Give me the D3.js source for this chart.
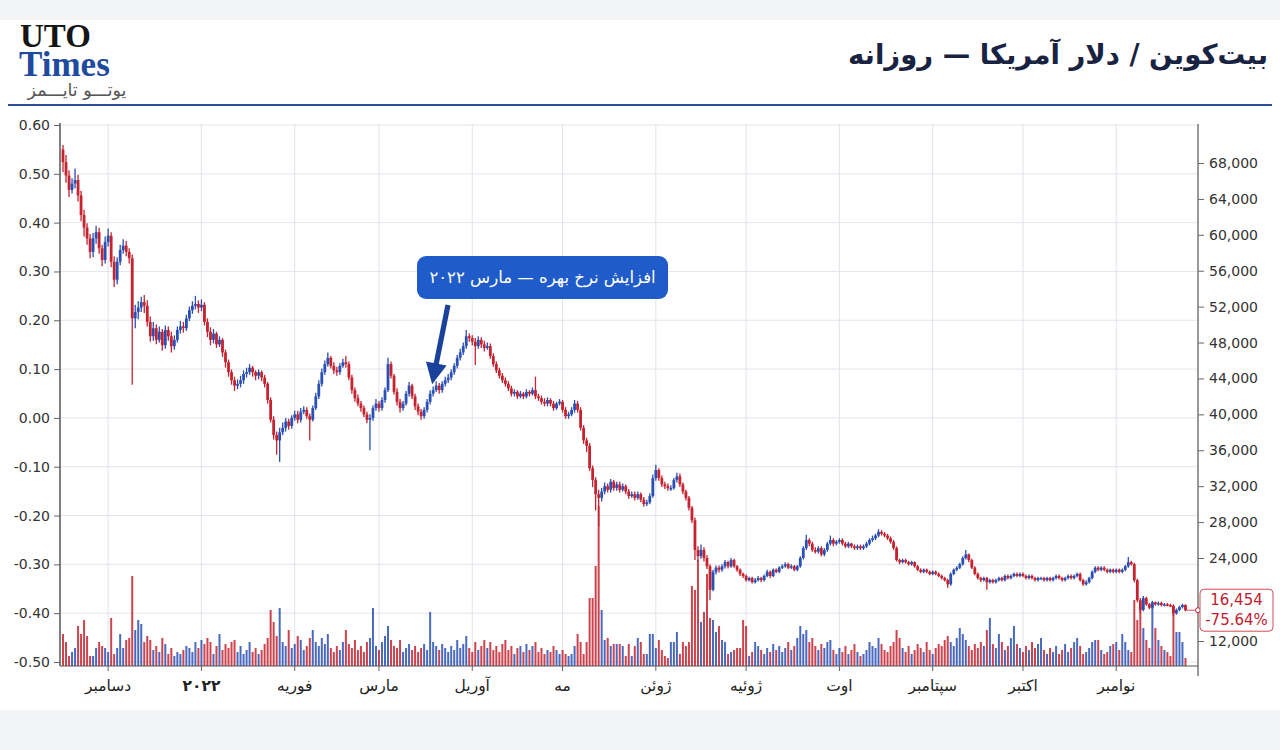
<!DOCTYPE html>
<html><head><meta charset="utf-8">
<script src="https://cdn.jsdelivr.net/npm/d3@7"></script>
<style>
html,body{margin:0;padding:0;background:#f3f4f6;}
svg{display:block;}
</style></head><body>
<svg id="chart" width="1280" height="750"></svg>
<script>
// ---------------- DATA ----------------
const startDate = "2021-11-16";
const firstOpen = 69500;
const closes = [
68100,66600,65000,65700,66100,64400,62200,60800,59600,58100,
59600,60300,58500,57200,59200,59900,57000,55000,57000,58300,
58800,58100,57400,50700,51400,51900,52500,52100,50300,48700,
49600,48300,49200,47700,49400,48700,47600,48300,49400,49800,
49600,50700,51600,52100,52300,51900,52200,50300,49200,48300,
49000,47800,48300,46900,45800,44700,43800,43200,43400,43800,
44500,44700,45200,44700,44300,44700,44100,43400,41600,39400,
37700,37100,38000,38500,39200,38700,39600,40000,39400,40300,
40500,39800,39400,40700,42000,43400,44700,45600,46300,45400,
44900,44700,45400,45800,45600,44100,42700,41800,41200,40700,
40000,39400,39600,40700,41200,40700,41600,42700,45600,44300,
42500,41400,40700,41200,42300,43200,42000,40900,40300,39800,
40500,41400,42300,42700,43200,42700,43400,43800,44100,44700,
45400,46300,46900,47600,48700,48500,48100,47600,48300,47800,
47400,47600,46500,45600,44900,44300,43800,43400,42900,42300,
42500,42000,42300,42000,42500,42300,42700,42000,41800,41400,
41200,41600,41200,40700,41200,41400,40500,39800,40000,40500,
41200,40500,38500,37100,36500,34000,32700,31100,30700,31400,
32000,31600,32500,31800,32200,31600,32000,31400,30900,31100,
30700,31100,30500,30000,30200,30900,32900,33800,32900,32200,
32000,31800,31800,32700,33100,32200,31400,30700,29600,28200,
24900,24200,24900,24000,22800,19400,22000,22600,22300,22800,
23400,22800,23700,22800,22300,21700,21400,20800,21100,20500,
20800,21100,20800,21400,22000,21400,22300,22000,22600,22800,
23100,22600,22800,22300,22800,24000,25100,26000,25600,24900,
24700,25100,24400,24900,25600,26000,25600,25800,26000,25600,
25300,25600,25300,25100,25300,25100,25300,25600,26000,26200,
26500,26900,26700,26500,26200,25800,25100,23700,23400,23700,
23400,23100,23400,22800,22300,22000,22300,22000,21700,22000,
21700,21400,21100,20800,20200,21700,22300,22600,23100,24000,
24400,23700,22600,21700,21100,20800,21100,20500,20800,20500,
20800,21100,20800,21400,21100,21400,21700,21400,21700,21400,
21100,21400,21100,20800,21100,21100,20800,21100,20800,21100,
21400,21100,20800,21100,21400,21100,21400,21700,20800,20200,
20500,21100,22000,22600,22300,22600,22300,22000,22300,22000,
22300,22000,22300,22800,23400,23100,20800,17900,16500,18200,
17300,16800,17600,17300,17500,17200,17300,17200,17100,16000,
16500,16900,17200,16454];
const highs = [
70000,68900,67200,66300,67400,66700,64900,62800,61300,60100,
60200,61000,60800,58900,59800,60700,60300,57600,57500,58900,
59500,59300,58500,57800,52200,52600,53100,53300,52700,50900,
50300,50000,49800,49500,49900,49800,49200,48800,49800,50400,
50300,51100,52000,52600,53200,52700,52800,52500,50700,49700,
49500,49200,48700,48500,47200,46100,45000,44200,43900,44300,
44900,45200,45600,45400,44900,45000,44900,44400,43600,41900,
39800,38100,38500,39100,39600,39500,39900,40400,40400,40700,
40900,40800,40100,41000,42400,43800,45100,46000,46900,46500,
45800,45300,45700,46200,46500,45900,44400,43000,42200,41500,
41000,40300,40000,41000,41700,41500,41900,43000,46300,45900,
44500,42900,41700,41500,42600,43600,43400,42300,41200,40600,
40800,41700,42700,43100,43700,43500,43700,44200,44500,45000,
45700,46600,47300,48000,49400,49000,48800,48500,48700,48600,
48200,48000,47900,46800,45900,45200,44600,44100,43700,43200,
42800,42700,42600,42500,42800,42700,43000,44200,42300,42100,
41800,41900,41800,41500,41400,41700,41600,40800,40300,40800,
41600,41500,40800,38800,37400,36800,34300,33000,31600,31800,
32400,32300,32800,32700,32500,32500,32300,32200,31700,31400,
31400,31400,31300,30800,30500,31200,33300,34400,34000,33200,
32500,32300,32100,32900,33500,33400,32400,31600,30900,29800,
28500,25300,25500,25200,24300,23100,22300,22900,22900,23100,
23700,23600,24000,23900,23000,22500,21900,21600,21300,21300,
21100,21400,21300,21600,22300,22200,22500,22500,22800,23100,
23400,23300,23100,23000,23000,24200,25300,26600,26200,25800,
25200,25300,25300,25100,25800,26500,26200,26000,26200,26200,
25800,25800,25700,25500,25500,25500,25500,25800,26200,26500,
26700,27200,27100,26900,26700,26400,26000,25300,23900,23900,
23900,23600,23600,23500,23000,22500,22500,22500,22200,22200,
22200,21900,21600,21300,21000,21900,22500,22800,23300,24200,
24900,24500,23900,22800,21900,21300,21300,21300,21000,21000,
21000,21300,21300,21600,21600,21600,21900,21900,21900,21900,
21600,21600,21600,21300,21300,21300,21300,21300,21300,21300,
21600,21600,21300,21300,21600,21600,21600,21900,21900,21000,
20800,21300,22200,22800,22800,22800,22800,22500,22500,22500,
22500,22500,22500,23000,24100,23600,23300,21000,18200,18500,
18400,17500,17800,17700,17700,17700,17500,17500,17400,17300,
16700,17100,17400,17300];
const lows = [
67000,65800,64200,64600,65200,63700,61500,59800,58900,57400,
57500,59000,57900,56500,56800,58700,56400,54200,54500,56600,
57900,57600,56800,43300,49600,50600,51400,51300,49800,48100,
48200,47800,48000,47100,47300,48200,46900,47200,48000,49000,
49100,49300,50400,51200,51700,51300,51500,49900,48600,47700,
47900,47400,47500,46400,45200,44200,43300,42600,42800,43000,
43400,44100,44400,44200,43800,43900,43700,43000,41200,39100,
37200,35500,34700,37700,38100,38300,38400,39300,39000,39100,
40000,39500,37100,39200,40500,41700,43100,44400,45300,45100,
44500,44300,44400,45200,45200,43800,42300,41400,40900,40300,
39700,39000,36000,39300,40400,40300,40400,41300,42500,44000,
42200,41000,40200,40400,41000,42000,41700,40500,39900,39400,
39500,40200,41100,42000,42500,42300,42400,43100,43500,43800,
44400,45100,46000,46600,47300,48100,47700,45500,47300,47400,
47000,47200,46200,45300,44600,44000,43500,43100,42600,42000,
42000,41700,41800,41700,41800,42000,42100,41700,41500,41100,
40900,40900,40900,40400,40500,41000,40200,39500,39500,39800,
40200,40200,38200,36700,35800,33700,31900,29300,27500,30300,
31100,31300,31300,31500,31500,31300,31400,31100,30600,30700,
30400,30500,30200,29700,29800,30000,30700,32600,32600,31900,
31700,31500,31500,31600,32400,31900,31100,30400,29300,27900,
23700,23600,23900,23500,22400,17900,19200,21600,21900,22000,
22500,22500,22600,22600,22000,21400,21100,20600,20600,20300,
20300,20600,20500,20600,21200,21100,21200,21800,21800,22400,
22600,22400,22400,22100,22100,22600,23800,24900,25300,24700,
24500,24500,24200,24200,24700,25400,25300,25400,25600,25400,
25100,25100,25100,24900,24900,24900,24900,25100,25400,25800,
26000,26300,26500,26300,26000,25600,24900,23500,23100,23200,
23200,22900,22900,22600,22100,21800,21800,21800,21500,21500,
21500,21200,20900,20600,19700,20000,21500,22100,22400,22900,
23800,23400,22400,21500,20900,20500,20600,19400,20300,20300,
20300,20600,20600,20600,20900,20900,21200,21200,21200,21200,
20900,20900,20900,20600,20600,20900,20600,20600,20600,20600,
20900,20900,20600,20600,20900,20900,20900,21200,20600,20000,
20000,20300,20900,21800,22100,22100,22100,21800,21800,21800,
21800,21800,21800,22100,22600,22900,20500,17600,16000,16300,
17100,16600,16600,17100,17100,17000,17000,17000,16900,15600,
15800,16300,16700,16300];
// daily volume, billions USD
const volumes = [
16,12,5,7,9,20,16,23,15,5,
5,9,12,10,9,7,24,6,9,16,
9,13,14,45,18,23,21,12,15,13,
8,10,7,14,11,6,9,5,7,6,
8,10,9,7,12,9,13,11,14,12,
6,10,16,8,11,9,12,13,7,10,
6,8,12,7,9,6,8,11,14,28,
22,15,29,12,10,18,9,11,15,13,
8,10,14,18,12,10,14,11,16,9,
7,10,8,12,18,11,9,13,8,10,
7,12,14,29,10,8,12,15,20,13,
10,9,13,7,9,11,8,10,7,9,
11,8,27,12,10,8,11,9,7,10,
8,13,9,11,15,9,7,12,8,10,
13,9,12,8,10,7,11,13,8,10,
6,9,10,7,11,8,10,12,7,9,
6,8,7,10,8,6,8,6,5,6,
10,16,12,6,12,34,34,50,80,28,
13,14,10,11,11,11,10,5,11,5,
10,14,12,6,6,16,16,9,13,8,
5,4,12,12,17,6,12,10,12,40,
38,53,22,27,46,24,23,17,20,13,
12,6,7,8,9,9,23,20,5,7,
12,10,8,6,9,7,11,8,10,7,
9,12,8,10,14,20,16,18,12,14,
10,8,11,9,12,13,8,6,9,7,
10,6,8,11,7,5,6,8,12,10,
9,14,11,8,7,10,12,18,14,9,
7,10,6,8,11,9,7,12,8,6,
9,11,10,13,15,12,10,14,19,16,
13,10,8,11,9,12,10,18,24,11,
9,16,12,8,10,14,20,11,9,7,
10,8,12,9,11,14,8,6,9,7,
10,6,8,11,7,9,12,14,10,6,
7,9,12,13,13,8,6,7,10,11,
12,8,16,12,8,7,33,23,30,19,
13,9,32,19,13,10,8,7,5,29,
17,17,12,4];
const lastPrice = 16454;
const changePct = -75.64;
const xDomain = ["2021-11-15", "2022-11-28"];
const monthTicks = ["2021-12-01","2022-01-01","2022-02-01","2022-03-01","2022-04-01","2022-05-01",
                    "2022-06-01","2022-07-01","2022-08-01","2022-09-01","2022-10-01","2022-11-01"];
const monthLabels = ["دسامبر","۲۰۲۲","فوریه","مارس","آوریل","مه","ژوئن","ژوئیه","اوت","سپتامبر","اکتبر","نوامبر"];
const leftTicks = [0.6,0.5,0.4,0.3,0.2,0.1,0,-0.1,-0.2,-0.3,-0.4,-0.5];
const rightTicks = [68000,64000,60000,56000,52000,48000,44000,40000,36000,32000,28000,24000,12000];
const annotationDate = "2022-03-18";
const annotationText = "افزایش نرخ بهره — مارس ۲۰۲۲";
const titleText = "بیت‌کوین / دلار آمریکا — روزانه";

// ---------------- CHART ----------------
const W = 1280, H = 750;
const L = 60, R = 1198, T = 124, B = 666;
const UP = "#2a50b4", DOWN = "#c4232f";
const svg = d3.select("#chart");
const parse = d3.utcParse("%Y-%m-%d");
const t0 = parse(startDate);
const data = closes.map((c, i) => ({
  date: d3.utcDay.offset(t0, i),
  open: i === 0 ? firstOpen : closes[i - 1],
  close: c, high: highs[i], low: lows[i], vol: volumes[i]
}));

const x = d3.scaleUtc().domain(xDomain.map(parse)).range([L, 1197.5]);
const yP = d3.scaleLinear().domain([12000, 24000, 68000]).range([641, 558, 163]);
const yL = d3.scaleLinear().domain([-0.5, 0.6]).range([662, 125]);
const yV = d3.scaleLinear().domain([0, 80]).range([B, B - 160]);

// background card
svg.append("rect").attr("x", 0).attr("y", 20).attr("width", W).attr("height", 690).attr("fill", "#ffffff");

// header logo (one text block, three lines)
const logo = svg.append("text");
logo.append("tspan").attr("x", 20).attr("y", 47).text("UTO")
  .attr("font-family", "Liberation Serif, serif").attr("font-weight", "bold").attr("font-size", 33).attr("fill", "#151515");
logo.append("tspan").attr("x", 19).attr("y", 76).text("Times")
  .attr("font-family", "Liberation Serif, serif").attr("font-weight", "bold").attr("font-size", 35).attr("fill", "#1f4b9e");
logo.append("tspan").attr("x", 77).attr("y", 96).text("یوتـــو تایـــمز")
  .attr("font-family", "DejaVu Sans").attr("font-size", 17.5).attr("fill", "#555")
  .attr("text-anchor", "middle").attr("direction", "rtl");
svg.append("text").attr("x", 1058).attr("y", 64).text(titleText)
  .attr("font-family", "DejaVu Sans").attr("font-weight", "bold").attr("font-size", 27.5)
  .attr("fill", "#182241").attr("text-anchor", "middle").attr("direction", "rtl");
svg.append("line").attr("x1", 8).attr("x2", 1272).attr("y1", 105).attr("y2", 105)
  .attr("stroke", "#2b4c9b").attr("stroke-width", 2);

// grid
const grid = svg.append("g");
grid.selectAll("line.h").data(leftTicks).join("line")
  .attr("x1", L).attr("x2", R).attr("y1", d => yL(d)).attr("y2", d => yL(d))
  .attr("stroke", "#e3e6ec").attr("stroke-width", 1);
grid.selectAll("line.v").data(monthTicks).join("line")
  .attr("x1", d => x(parse(d))).attr("x2", d => x(parse(d))).attr("y1", T).attr("y2", B)
  .attr("stroke", "#dfe3ea").attr("stroke-width", 1);

// axes
const loc = d3.formatLocale({decimal: ".", thousands: ",", grouping: [3], currency: ["$", ""], minus: "-"});
const axL = svg.append("g").attr("transform", `translate(${L},0)`)
  .call(d3.axisLeft(yL).tickValues(leftTicks).tickFormat(loc.format(".2f")).tickSize(6).tickPadding(4));
const axR = svg.append("g").attr("transform", `translate(${R},0)`)
  .call(d3.axisRight(yP).tickValues(rightTicks).tickFormat(loc.format(",")).tickSize(6).tickPadding(5));
[axL, axR].forEach(a => {
  a.select(".domain").remove();
  a.selectAll("text").attr("font-family", "DejaVu Sans").attr("font-size", 14).attr("fill", "#333");
  a.selectAll(".tick line").attr("stroke", "#666");
});
svg.append("line").attr("x1", L).attr("x2", L).attr("y1", T - 1).attr("y2", B)
  .attr("stroke", "#555").attr("stroke-width", 1.5);
svg.append("line").attr("x1", R).attr("x2", R).attr("y1", T).attr("y2", B + 10)
  .attr("stroke", "#777").attr("stroke-width", 1.5);

// clipped plot
svg.append("clipPath").attr("id", "clip").append("rect")
  .attr("x", L).attr("y", T - 4).attr("width", R - L).attr("height", B - T + 4);
const plot = svg.append("g").attr("clip-path", "url(#clip)");

// volume
plot.selectAll("rect.vol").data(data).join("rect")
  .attr("x", d => x(d.date) - 1).attr("width", 2)
  .attr("y", d => yV(d.vol)).attr("height", d => B - yV(d.vol))
  .attr("fill", d => d.close >= d.open ? UP : DOWN).attr("opacity", 0.85);

// candles
const cg = plot.selectAll("g.c").data(data).join("g");
cg.append("line")
  .attr("x1", d => x(d.date)).attr("x2", d => x(d.date))
  .attr("y1", d => yP(d.high)).attr("y2", d => yP(d.low))
  .attr("stroke", d => d.close >= d.open ? UP : DOWN).attr("stroke-width", 1.3);
cg.append("rect")
  .attr("x", d => x(d.date) - 1.4).attr("width", 2.8)
  .attr("y", d => Math.min(yP(d.open), yP(d.close)))
  .attr("height", d => Math.max(1.5, Math.abs(yP(d.open) - yP(d.close))))
  .attr("fill", d => d.close >= d.open ? UP : DOWN);

// bottom baseline + month ticks
svg.append("line").attr("x1", L).attr("x2", R).attr("y1", B).attr("y2", B)
  .attr("stroke", "#555").attr("stroke-width", 1);
svg.selectAll("line.mt").data(monthTicks).join("line")
  .attr("x1", d => x(parse(d))).attr("x2", d => x(parse(d))).attr("y1", B).attr("y2", B + 5)
  .attr("stroke", "#666");
svg.selectAll("text.ml").data(monthLabels).join("text")
  .attr("x", (d, i) => x(parse(monthTicks[i]))).attr("y", 691)
  .attr("text-anchor", "middle").attr("direction", "rtl")
  .attr("font-family", "DejaVu Sans").attr("font-size", 15.5)
  .attr("font-weight", (d, i) => i === 1 ? "bold" : "normal")
  .attr("fill", "#222").text(d => d);

// last price line + label
const last = data[data.length - 1];
const yLast = yP(lastPrice);
svg.append("line").attr("x1", x(last.date) + 1).attr("x2", R).attr("y1", yLast).attr("y2", yLast)
  .attr("stroke", DOWN).attr("stroke-width", 1).attr("opacity", 0.8);
svg.append("circle").attr("cx", R).attr("cy", yLast).attr("r", 2.5)
  .attr("fill", "#fff").attr("stroke", DOWN).attr("stroke-width", 1);
svg.append("rect").attr("x", 1200).attr("y", yLast - 21).attr("width", 73).attr("height", 42).attr("rx", 4)
  .attr("fill", "#fff").attr("stroke", "#d24a58").attr("stroke-width", 1);
svg.append("text").attr("x", 1236.5).attr("y", yLast - 5).attr("text-anchor", "middle")
  .attr("font-family", "DejaVu Sans").attr("font-size", 15).attr("fill", "#c0202f")
  .text(loc.format(",")(lastPrice));
svg.append("text").attr("x", 1236.5).attr("y", yLast + 15).attr("text-anchor", "middle")
  .attr("font-family", "DejaVu Sans").attr("font-size", 15).attr("fill", "#c0202f")
  .text(loc.format(".2f")(changePct) + "%");

// annotation
const ann = svg.append("g");
ann.append("rect").attr("x", 417).attr("y", 256).attr("width", 251).attr("height", 43).attr("rx", 9)
  .attr("fill", "#1f5cc9");
ann.append("text").attr("x", 542.5).attr("y", 283).attr("text-anchor", "middle").attr("direction", "rtl")
  .attr("font-family", "DejaVu Sans").attr("font-size", 16.5).attr("fill", "#fff").text(annotationText);
const aData = data.find(d => +d.date === +parse(annotationDate));
const tip = [x(aData.date) + 2, yP(aData.high) - 6];
const tail = [448, 305];
const dx = tip[0] - tail[0], dy = tip[1] - tail[1], len = Math.hypot(dx, dy);
const ux = dx / len, uy = dy / len, nx = -uy, ny = ux;
const hl = 21, sw = 2.6, hw = 10.5;
const se = [tip[0] - ux * hl, tip[1] - uy * hl];
const pts = [
  [tail[0] + nx * sw, tail[1] + ny * sw], [se[0] + nx * sw, se[1] + ny * sw], [se[0] + nx * hw, se[1] + ny * hw],
  tip, [se[0] - nx * hw, se[1] - ny * hw], [se[0] - nx * sw, se[1] - ny * sw], [tail[0] - nx * sw, tail[1] - ny * sw]
];
ann.append("path").attr("d", d3.line()(pts) + "Z").attr("fill", "#1b429a");
</script>
</body></html>
